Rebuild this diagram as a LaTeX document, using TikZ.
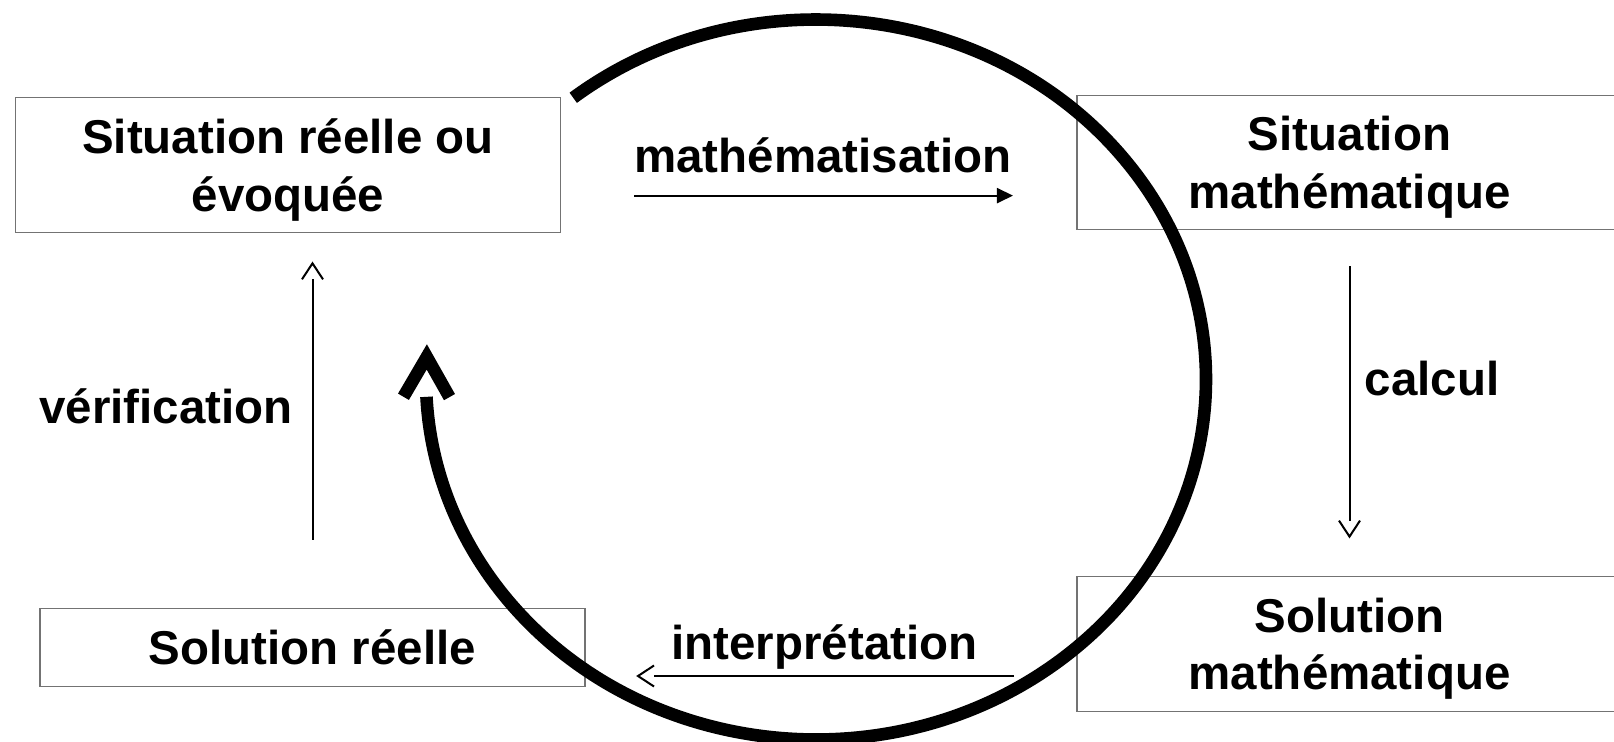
\documentclass[tikz,border=0pt]{standalone}
\usepackage{fontspec}
\setmainfont{Liberation Sans}
\usetikzlibrary{arrows.meta,bending}
% open V head, the shaft stops at its base
\pgfdeclarearrow{
  name = Chevron,
  parameters = {\the\pgfarrowlength,\the\pgfarrowwidth},
  setup code = {
    \pgfarrowssettipend{0pt}
    \pgfarrowssetlineend{-\pgfarrowlength}
    \pgfarrowssetbackend{-\pgfarrowlength}
    \pgfarrowssavethe\pgfarrowlength
    \pgfarrowssavethe\pgfarrowwidth
  },
  drawing code = {
    \pgfsetbuttcap
    \pgfsetmiterjoin
    \pgfpathmoveto{\pgfqpoint{-\pgfarrowlength}{.5\pgfarrowwidth}}
    \pgfpathlineto{\pgfpointorigin}
    \pgfpathlineto{\pgfqpoint{-\pgfarrowlength}{-.5\pgfarrowwidth}}
    \pgfusepathqstroke
  },
  defaults = {length=4pt, width=5pt}
}
\tikzset{
  box/.style={draw=black!55, line width=0.015cm, minimum width=5.45cm, inner sep=0pt,
    align=center, font=\bfseries\fontsize{13.5}{16.4}\selectfont},
  twolines/.style={text depth=-0.1cm},
  arrowtext/.style={font=\bfseries\fontsize{13.5}{16.4}\selectfont, anchor=base},
  thinarrow/.style={line width=0.02cm, -{Chevron[length=0.16cm,width=0.21cm]}},
  cyclearrow/.style={line width=0.126cm, -{Chevron[length=0.4cm,width=0.46cm,flex]}}
}
\begin{document}
\begin{tikzpicture}[x=0.01cm, y=0.01cm]
\useasboundingbox (0,0) rectangle (1614,-741);
% the four situations
\node[box, twolines, minimum height=1.35cm] (sitreelle) at (288,-165) {Situation réelle ou\\évoquée};
\node[box, twolines, minimum height=1.34cm] (sitmath) at (1349.5,-162.6) {Situation\\mathématique};
\node[box, twolines, minimum height=1.35cm] (solmath) at (1349.5,-643.9) {Solution\\mathématique};
\node[box, minimum height=0.78cm] (solreelle) at (312.5,-647.5) {Solution réelle};
% steps
\coordinate (mathA) at (634,-195.6);
\coordinate (mathB) at (1013,-195.6);
\draw [line width=0.02cm, -{Triangle[length=0.16cm,width=0.15cm]}] (mathA)--(mathB);
\node[arrowtext] (mathlabel) at (823,-172) {mathématisation};
\draw [thinarrow, shorten <=0.36cm, shorten >=0.39cm] (sitmath)--(solmath);
\node[arrowtext] (calclabel) at (1432,-395) {calcul};
\coordinate (interpA) at (1014,-676);
\coordinate (interpB) at (638,-676);
\draw [thinarrow] (interpA)--(interpB);
\node[arrowtext] (interplabel) at (824.5,-659) {interprétation};
\draw [thinarrow, shorten <=0.68cm, shorten >=0.30cm] (solreelle)--(solreelle |- sitreelle.south);
\node[arrowtext] (veriflabel) at (166,-423) {vérification};
% the cycle
\draw [cyclearrow] (816,-379.5) ++(128.5:390 and 360)
  arc [start angle=128.5, end angle=-183.6, x radius=390, y radius=360];
\end{tikzpicture}
\end{document}
